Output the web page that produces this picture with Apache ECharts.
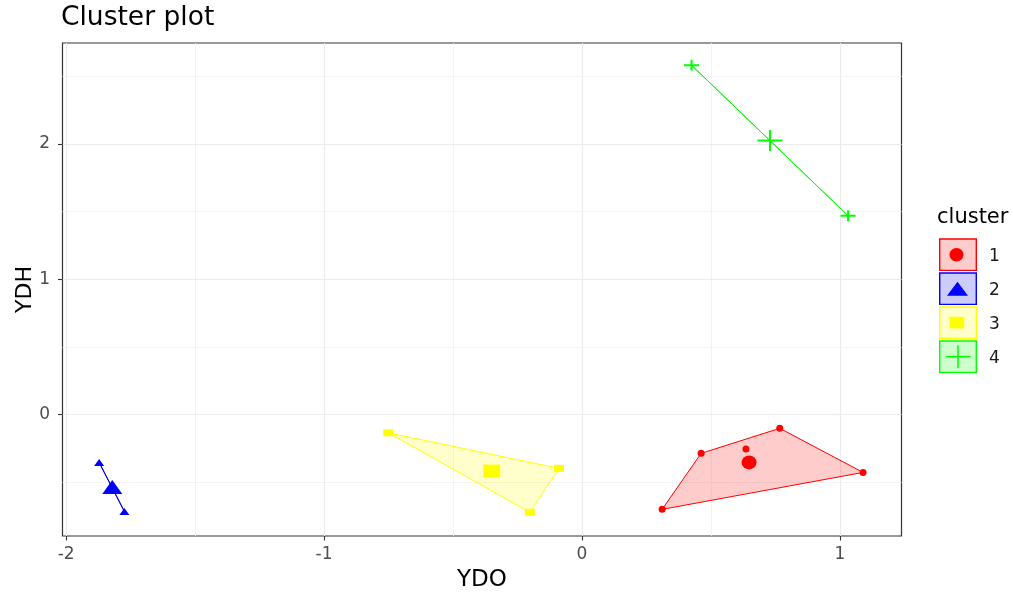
<!DOCTYPE html>
<html>
<head>
<meta charset="utf-8">
<script src="https://cdn.jsdelivr.net/npm/echarts@6/dist/echarts.min.js"></script>
<style>html,body{margin:0;padding:0;background:#fff;}#c{width:1013px;height:593px;}</style>
</head>
<body>
<div id="c"></div>
<script>
// ---- data ----
const clusterNames = ['1', '2', '3', '4'];
const clusterColors = ['#FF0000', '#0000FF', '#FFFF00', '#00FF00'];
const cluster1 = [[0.311, -0.702], [0.462, -0.288], [0.767, -0.103], [1.090, -0.429], [0.636, -0.256]];
const cluster2 = [[-1.872, -0.355], [-1.774, -0.718]];
const cluster3 = [[-0.751, -0.136], [-0.089, -0.399], [-0.202, -0.724]];
const cluster4 = [[0.425, 2.582], [1.032, 1.468]];
const centers = [[0.648, -0.355], [-1.821, -0.537], [-0.350, -0.419], [0.729, 2.025]];
const xTicks = [-2, -1, 0, 1];
const yTicks = [0, 1, 2];
const xMinorGrid = [-1.5, -0.5, 0.5];
const yMinorGrid = [-0.5, 0.5, 1.5, 2.5];

const clusters = [cluster1, cluster2, cluster3, cluster4];

function hull(pts) {
  const p = pts.slice().sort((a, b) => a[0] - b[0] || a[1] - b[1]);
  if (p.length < 3) return p;
  const cross = (o, a, b) => (a[0] - o[0]) * (b[1] - o[1]) - (a[1] - o[1]) * (b[0] - o[0]);
  const lower = [], upper = [];
  for (const q of p) { while (lower.length >= 2 && cross(lower[lower.length - 2], lower[lower.length - 1], q) <= 0) lower.pop(); lower.push(q); }
  for (let i = p.length - 1; i >= 0; i--) { const q = p[i]; while (upper.length >= 2 && cross(upper[upper.length - 2], upper[upper.length - 1], q) <= 0) upper.pop(); upper.push(q); }
  upper.pop(); lower.pop();
  return lower.concat(upper);
}

function rgba(hex, a) {
  const n = parseInt(hex.slice(1), 16);
  return 'rgba(' + (n >> 16 & 255) + ',' + (n >> 8 & 255) + ',' + (n & 255) + ',' + a + ')';
}

const plusSmall = 'path://M-0.14,-1H0.14V1H-0.14Z M-1,-0.18H1V0.18H-1Z';
const plusBig = 'path://M-0.08,-1H0.08V1H-0.08Z M-1,-0.1H1V0.1H-1Z';
const smallSymbols = ['circle', 'triangle', 'rect', plusSmall];
const bigSymbols = ['circle', 'triangle', 'rect', plusBig];
const smallSizes = [7, [10, 7], [10, 7], [15, 11]];
const bigSizes = [[15, 14], [20, 14], [17, 13], [25, 21]];

const series = [];
clusters.forEach((pts, i) => {
  const h = hull(pts);
  series.push({
    type: 'custom',
    name: clusterNames[i],
    data: h,
    silent: true,
    z: 1,
    renderItem: function (params, api) {
      if (params.dataIndex !== 0) return null;
      const coords = h.map(p => api.coord(p));
      return {
        type: 'polygon',
        shape: { points: coords },
        style: { fill: rgba(clusterColors[i], 0.2), stroke: clusterColors[i], lineWidth: 1 }
      };
    }
  });
});
clusters.forEach((pts, i) => {
  series.push({
    type: 'scatter',
    name: clusterNames[i],
    data: pts,
    symbol: smallSymbols[i],
    symbolSize: smallSizes[i],
    itemStyle: { color: clusterColors[i], opacity: 1 },
    z: 3,
    silent: true
  });
});
centers.forEach((c, i) => {
  series.push({
    type: 'scatter',
    name: clusterNames[i],
    data: [c],
    symbol: bigSymbols[i],
    symbolSize: bigSizes[i],
    itemStyle: { color: clusterColors[i], opacity: 1 },
    z: 4,
    silent: true
  });
});

// grid lines through markLine
const majorStyle = { color: '#ebebeb', width: 1.1, type: 'solid' };
const minorStyle = { color: '#f0f0f0', width: 0.8, type: 'solid' };
const gridLines = [];
xTicks.forEach(v => gridLines.push({ xAxis: v, lineStyle: majorStyle }));
xMinorGrid.forEach(v => gridLines.push({ xAxis: v, lineStyle: minorStyle }));
yTicks.forEach(v => gridLines.push({ yAxis: v, lineStyle: majorStyle }));
yMinorGrid.forEach(v => gridLines.push({ yAxis: v, lineStyle: minorStyle }));
series.unshift({
  type: 'scatter',
  data: [],
  silent: true,
  z: 0,
  markLine: { silent: true, symbol: 'none', label: { show: false }, animation: false, data: gridLines, z: 0 }
});

const font = 'DejaVu Sans, Liberation Sans, sans-serif';

// legend drawn with graphic elements
const legendGraphics = [];
const keyX = 939.7, keyW = 36.6;
const keyY = [239, 273, 307, 341], keyH = 31.4;
legendGraphics.push({ type: 'text', left: 937, top: 207.5, style: { text: 'cluster', fontSize: 21, fontFamily: font, fill: '#000' } });
keyY.forEach((y, i) => {
  const col = clusterColors[i];
  const cx = keyX + keyW / 2, cy = y + keyH / 2;
  legendGraphics.push({ type: 'rect', shape: { x: keyX, y: y, width: keyW, height: keyH }, style: { fill: rgba(col, 0.2), stroke: col, lineWidth: 1.4 } });
  if (i === 0) legendGraphics.push({ type: 'ellipse', shape: { cx: cx - 1.5, cy: cy, rx: 7, ry: 6.7 }, style: { fill: col } });
  if (i === 1) legendGraphics.push({ type: 'polygon', shape: { points: [[cx - 0.5, cy - 7], [cx - 11, cy + 7], [cx + 10, cy + 7]] }, style: { fill: col } });
  if (i === 2) legendGraphics.push({ type: 'rect', shape: { x: cx - 8.5, y: cy - 6, width: 14.7, height: 11.7 }, style: { fill: col } });
  if (i === 3) {
    legendGraphics.push({ type: 'line', shape: { x1: cx - 12.5, y1: cy, x2: cx + 12.5, y2: cy }, style: { stroke: col, lineWidth: 1.5 } });
    legendGraphics.push({ type: 'line', shape: { x1: cx, y1: cy - 11.5, x2: cx, y2: cy + 11.5 }, style: { stroke: col, lineWidth: 1.5 } });
  }
  legendGraphics.push({ type: 'text', left: 989, top: cy - 6.5, style: { text: clusterNames[i], fontSize: 17, fontFamily: font, fill: '#1a1a1a' } });
});

const chart = echarts.init(document.getElementById('c'), null, { renderer: 'canvas' });
chart.setOption({
  animation: false,
  backgroundColor: '#fff',
  textStyle: { fontFamily: font },
  title: { text: 'Cluster plot', left: 56, top: 0, textStyle: { fontSize: 26.5, fontWeight: 'normal', color: '#000', fontFamily: font } },
  grid: { left: 62.5, right: 111.5, top: 43, bottom: 57, show: true, borderColor: '#333333', borderWidth: 1.2, backgroundColor: 'transparent', containLabel: false, outerBoundsMode: 'none' },
  xAxis: {
    type: 'value', min: -2.014, max: 1.239,
    name: 'YDO', nameLocation: 'middle', nameGap: 33, nameMoveOverlap: false,
    nameTextStyle: { fontSize: 23, color: '#000', fontFamily: font },
    axisLine: { show: false, onZero: false },
    axisTick: { show: true, length: 4.5, lineStyle: { color: '#333333', width: 1.1 }, customValues: xTicks },
    axisLabel: { color: '#4d4d4d', fontSize: 17, margin: 10, customValues: xTicks, formatter: v => String(v), fontFamily: font },
    splitLine: { show: false }
  },
  yAxis: {
    type: 'value', min: -0.899, max: 2.746,
    name: 'YDH', nameLocation: 'middle', nameGap: 26.5, nameRotate: 90, nameMoveOverlap: false,
    nameTextStyle: { fontSize: 22, color: '#000', fontFamily: font },
    axisLine: { show: false, onZero: false },
    axisTick: { show: true, length: 4.5, lineStyle: { color: '#333333', width: 1.1 }, customValues: yTicks },
    axisLabel: { color: '#4d4d4d', fontSize: 17, margin: 12.5, customValues: yTicks, formatter: v => String(v), fontFamily: font },
    splitLine: { show: false }
  },
  graphic: legendGraphics,
  series: series
});
</script>
</body>
</html>
